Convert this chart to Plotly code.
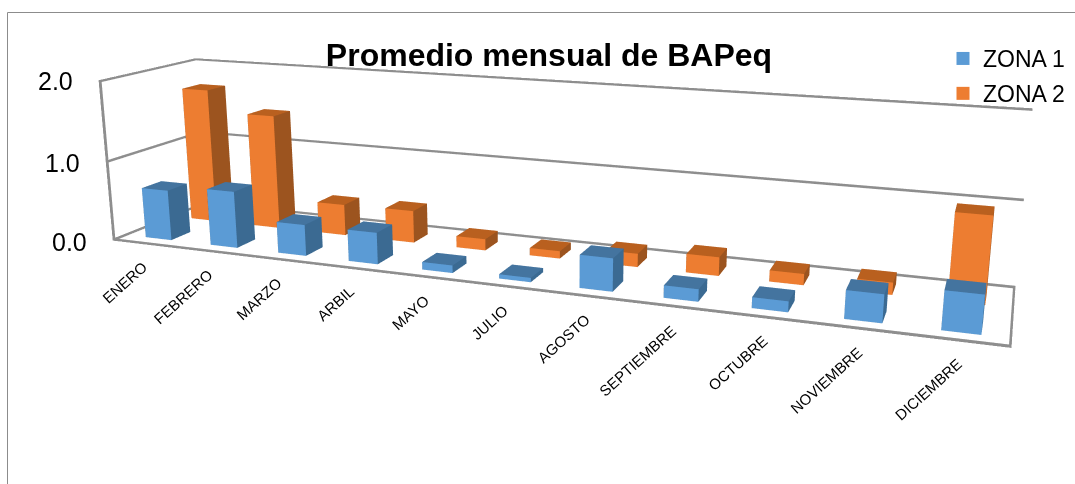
import plotly.graph_objects as go

categories = ["ENERO","FEBRERO","MARZO","ARBIL","MAYO","JULIO","AGOSTO","SEPTIEMBRE","OCTUBRE","NOVIEMBRE","DICIEMBRE"]
zona1 = [0.63,0.70,0.38,0.38,0.09,0.05,0.38,0.14,0.12,0.31,0.42]
zona2 = [1.72,1.45,0.39,0.40,0.14,0.09,0.16,0.22,0.13,0.14,0.98]
z_ticks = [0,1,2]
z_tick_labels = ["0.0","1.0","2.0"]
series_names = ["ZONA 1","ZONA 2"]

BLUE = dict(front="#5B9BD5", side="#3B6A92", top="#44749F")
ORANGE = dict(front="#ED7D31", side="#9C541F", top="#B9601F")
GRID = "#8E8E8E"

# figure is larger than the window: plotly's perspective has a fixed field of view
FW, FH, OX, OY = 1090, 1068, 0, -332
def px(x): return (x-OX)/FW
def py(y): return 1-(y-OY)/FH

X0, X1 = -0.5, 10.5
Y0, Y1 = 0.0, 1.0
BAR_HALF = 0.2
ROWS = [(0.14,0.34),(0.63,0.83)]
TX, TY, TZ = 0.025, 0.012, 0.024   # frame line thickness in axis units

BOX_FACES = [((0,1,5),"front"),((0,5,4),"front"),
             ((1,2,6),"side"),((1,6,5),"side"),
             ((4,5,6),"top"),((4,6,7),"top"),
             ((3,0,4),"side"),((3,4,7),"side"),
             ((3,2,1),"top"),((3,1,0),"top"),
             ((2,3,7),"side"),((2,7,6),"side")]

def add_box(buf, a,b,y0,y1,z0,z1, pal):
    xs,ys,zs,ii,jj,kk,fc = buf
    n = len(xs)
    xs += [a,b,b,a,a,b,b,a]
    ys += [y0,y0,y1,y1,y0,y0,y1,y1]
    zs += [z0,z0,z0,z0,z1,z1,z1,z1]
    for (p,q,r),k in BOX_FACES:
        ii.append(n+p); jj.append(n+q); kk.append(n+r); fc.append(pal[k])

LIGHT = dict(ambient=1,diffuse=0,specular=0,fresnel=0,roughness=1)

def mesh(buf, name=None):
    xs,ys,zs,ii,jj,kk,fc = buf
    return go.Mesh3d(x=xs,y=ys,z=zs,i=ii,j=jj,k=kk,facecolor=fc,flatshading=True,lighting=LIGHT,
                     hoverinfo="skip",name=name,showlegend=False,legendgroup=name)

def bars_mesh(values, row, pal, name):
    buf = ([],[],[],[],[],[],[])
    for c,v in enumerate(values):
        add_box(buf, c-BAR_HALF, c+BAR_HALF, row[0], row[1], 0, v, pal)
    return mesh(buf, name)

# frame: thin prisms along the axis box edges
gpal = dict(front=GRID,side=GRID,top=GRID)
frame = ([],[],[],[],[],[],[])
ZLO, ZHI = z_ticks[0], z_ticks[-1]
def zband(z): return (z, z+TZ) if z == ZLO else ((z-TZ, z) if z == ZHI else (z-TZ/2, z+TZ/2))
for z in z_ticks:
    z0,z1 = zband(z)
    add_box(frame, X0, X0+TX, Y0, Y1, z0, z1, gpal)          # left wall
    add_box(frame, X0, X1, Y1-TY, Y1, z0, z1, gpal)          # back wall
add_box(frame, X0, X0+TX, Y0, Y0+TY, ZLO, ZHI, gpal)         # front-left post
add_box(frame, X0, X1, Y0, Y0+TY, *zband(ZLO), gpal)         # floor front edge
add_box(frame, X1-TX, X1, Y0, Y1, *zband(ZLO), gpal)         # floor right edge

fig = go.Figure()
fig.add_trace(mesh(frame))
fig.add_trace(bars_mesh(zona1,ROWS[0],BLUE,series_names[0]))
fig.add_trace(bars_mesh(zona2,ROWS[1],ORANGE,series_names[1]))
for nm,pal in zip(series_names,(BLUE,ORANGE)):
    fig.add_trace(go.Scatter3d(x=[None],y=[None],z=[None],mode="markers",name=nm,legendgroup=nm,
                               marker=dict(symbol="square",size=13,color=pal["front"])))

anns = []
for c,t in enumerate(categories):
    anns.append(dict(x=c,y=Y0,z=0,text=t,textangle=-42,showarrow=False,xanchor="right",yanchor="top",
                     xshift=8,yshift=-11,font=dict(family="Liberation Sans",size=15,color="#000000")))
for z,t in zip(z_ticks,z_tick_labels):
    anns.append(dict(x=X0,y=Y0,z=z,text=t,showarrow=False,xanchor="right",yanchor="middle",
                     xshift=-24,yshift=-1,font=dict(family="Liberation Sans",size=25,color="#000000")))

noax = dict(visible=False,showgrid=False,zeroline=False,showline=False,showticklabels=False,showbackground=False,showspikes=False,title="")
fig.update_layout(
    width=FW,height=FH,margin=dict(l=0,r=0,t=0,b=0),paper_bgcolor="white",
    font=dict(family="Liberation Sans",color="#000000"),
    title=dict(text="<b>Promedio mensual de BAPeq</b>",x=px(549),y=py(55),xanchor="center",yanchor="middle",xref="paper",yref="paper",
               font=dict(size=32,family="Liberation Sans",color="#000000")),
    legend=dict(x=px(943),y=py(37),xanchor="left",yanchor="top",font=dict(size=23,family="Liberation Sans",color="#000000"),
                tracegroupgap=2,bgcolor="rgba(0,0,0,0)",itemclick=False,itemdoubleclick=False),
    scene=dict(domain=dict(x=[0,1],y=[0,1]),
               xaxis=dict(range=[X0,X1],**noax),yaxis=dict(range=[Y0,Y1],**noax),zaxis=dict(range=[ZLO,ZHI],**noax),
               aspectmode="manual",aspectratio=dict(x=4.0,y=0.7419,z=0.7627),
               camera=dict(eye=dict(x=1.9505,y=-5.1247,z=1.3276),center=dict(x=-0.1793,y=0.5796,z=-0.2592),up=dict(x=0,y=0,z=1)),
               annotations=anns),
    shapes=[dict(type="line",xref="paper",yref="paper",x0=px(7.5),x1=px(1075),y0=py(12.5),y1=py(12.5),line=dict(color="#8C8C8C",width=1)),
            dict(type="line",xref="paper",yref="paper",x0=px(7.5),x1=px(7.5),y0=py(12.5),y1=py(484),line=dict(color="#8C8C8C",width=1))],
)
post = """
document.documentElement.style.overflow='hidden';
document.body.style.overflow='hidden';
document.body.style.margin='0';
var gd=document.getElementById('{plot_id}');
gd.style.position='absolute';gd.style.left='%dpx';gd.style.top='%dpx';
""" % (OX,OY)
fig.write_html("out.html",post_script=post,config=dict(displayModeBar=False))
